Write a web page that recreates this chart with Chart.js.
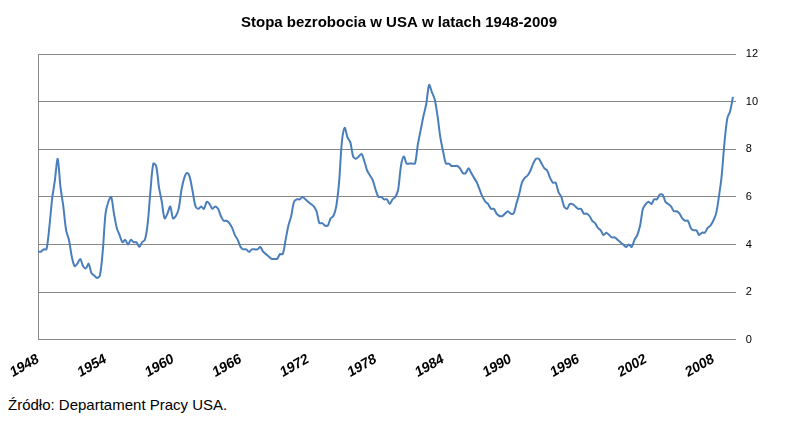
<!DOCTYPE html>
<html><head><meta charset="utf-8">
<script src="https://cdn.jsdelivr.net/npm/chart.js@4"></script>
<style>
body{margin:0;background:#fff;font-family:Arial,"Liberation Sans",sans-serif}
#wrap{position:relative;width:788px;height:392px}
#src{position:absolute;left:8px;top:396px;font-size:15px;color:#000}
</style></head><body>
<div id="wrap"><canvas id="c" width="788" height="392"></canvas></div>
<div id="src">Źródło: Departament Pracy USA.</div>
<script>
const startYear = 1948;
const rates = [
3.7,3.7,3.8,3.8, 4.7,5.9,6.7,7.6, 6.4,5.6,4.6,4.2, 3.5,3.1,3.2,3.4,
3.1,3.0,3.2,2.8, 2.7,2.6,2.7,3.7, 5.3,5.8,6.0,5.3, 4.7,4.4,4.1,4.2,
4.0,4.2,4.1,4.1, 3.9,4.1,4.2,4.9, 6.3,7.4,7.3,6.4, 5.8,5.1,5.3,5.6,
5.1,5.2,5.5,6.3, 6.8,7.0,6.8,6.2, 5.6,5.5,5.6,5.5, 5.8,5.7,5.5,5.6,
5.5,5.2,5.0,5.0, 4.9,4.7,4.4,4.2, 3.9,3.8,3.8,3.7, 3.8,3.8,3.8,3.9,
3.7,3.6,3.5,3.4, 3.4,3.4,3.6,3.6, 4.2,4.8,5.2,5.8, 5.9,5.9,6.0,5.9,
5.8,5.7,5.6,5.4, 4.9,4.9,4.8,4.8, 5.1,5.2,5.6,6.6, 8.3,8.9,8.5,8.3,
7.7,7.6,7.7,7.8, 7.5,7.1,6.9,6.7, 6.3,6.0,6.0,5.9, 5.9,5.7,5.9,6.0,
6.3,7.3,7.7,7.4, 7.4,7.4,7.4,8.2, 8.8,9.4,9.9,10.7, 10.4,10.1,9.4,8.5,
7.9,7.4,7.4,7.3, 7.3,7.3,7.2,7.0, 7.0,7.2,7.0,6.8, 6.6,6.3,6.0,5.8,
5.7,5.5,5.5,5.3, 5.2,5.2,5.3,5.4, 5.3,5.3,5.7,6.1, 6.6,6.8,6.9,7.1,
7.4,7.6,7.6,7.4, 7.2,7.1,6.8,6.6, 6.6,6.2,6.0,5.6, 5.5,5.7,5.7,5.6,
5.5,5.5,5.3,5.3, 5.2,5.0,4.9,4.7, 4.6,4.4,4.5,4.4, 4.3,4.3,4.2,4.1,
4.0,3.9,4.0,3.9, 4.2,4.4,4.8,5.5, 5.7,5.8,5.7,5.9, 5.9,6.1,6.1,5.8,
5.7,5.6,5.4,5.4, 5.3,5.1,5.0,5.0, 4.7,4.6,4.6,4.4, 4.5,4.5,4.7,4.8,
5.0,5.3,6.0,6.9, 8.3,9.3,9.6,10.2
];
const tickYears = [1948,1954,1960,1966,1972,1978,1984,1990,1996,2002,2008];
const points = rates.map((v, i) => ({x: startYear + i / 4, y: v}));

new Chart(document.getElementById('c'), {
  type: 'line',
  data: {
    datasets: [{
      data: points,
      borderColor: '#4a7ebb',
      borderWidth: 2,
      pointRadius: 0,
      tension: 0.3,
    }],
  },
  options: {
    responsive: false,
    animation: false,
    layout: {padding: {left: 30, right: 20, top: 0, bottom: 8}},
    plugins: {
      legend: {display: false},
      title: {
        display: true,
        text: 'Stopa bezrobocia w USA w latach 1948-2009',
        font: {size: 15, weight: 'bold', family: 'Arial'},
        color: '#000',
        padding: {top: 14, bottom: 22},
      },
    },
    scales: {
      x: {
        type: 'linear',
        min: 1948,
        max: 2010,
        afterBuildTicks: (axis) => { axis.ticks = tickYears.map((v) => ({value: v})); },
        grid: {display: false},
        border: {color: '#888'},
        ticks: {
          maxRotation: 30, minRotation: 30,
          font: {size: 14, weight: 'bold', style: 'italic', family: 'Arial'},
          color: '#000',
          callback: (v) => String(v),
        },
      },
      y: {
        position: 'right',
        min: 0,
        max: 12,
        ticks: {stepSize: 2, font: {size: 11, family: 'Arial'}, color: '#000', padding: 10},
        grid: {color: '#888', drawTicks: false},
        border: {display: false},
      },
      yl: {
        position: 'left',
        min: 0,
        max: 12,
        ticks: {display: false},
        grid: {display: false},
        border: {color: '#888'},
      },
    },
  },
});
</script></body></html>
